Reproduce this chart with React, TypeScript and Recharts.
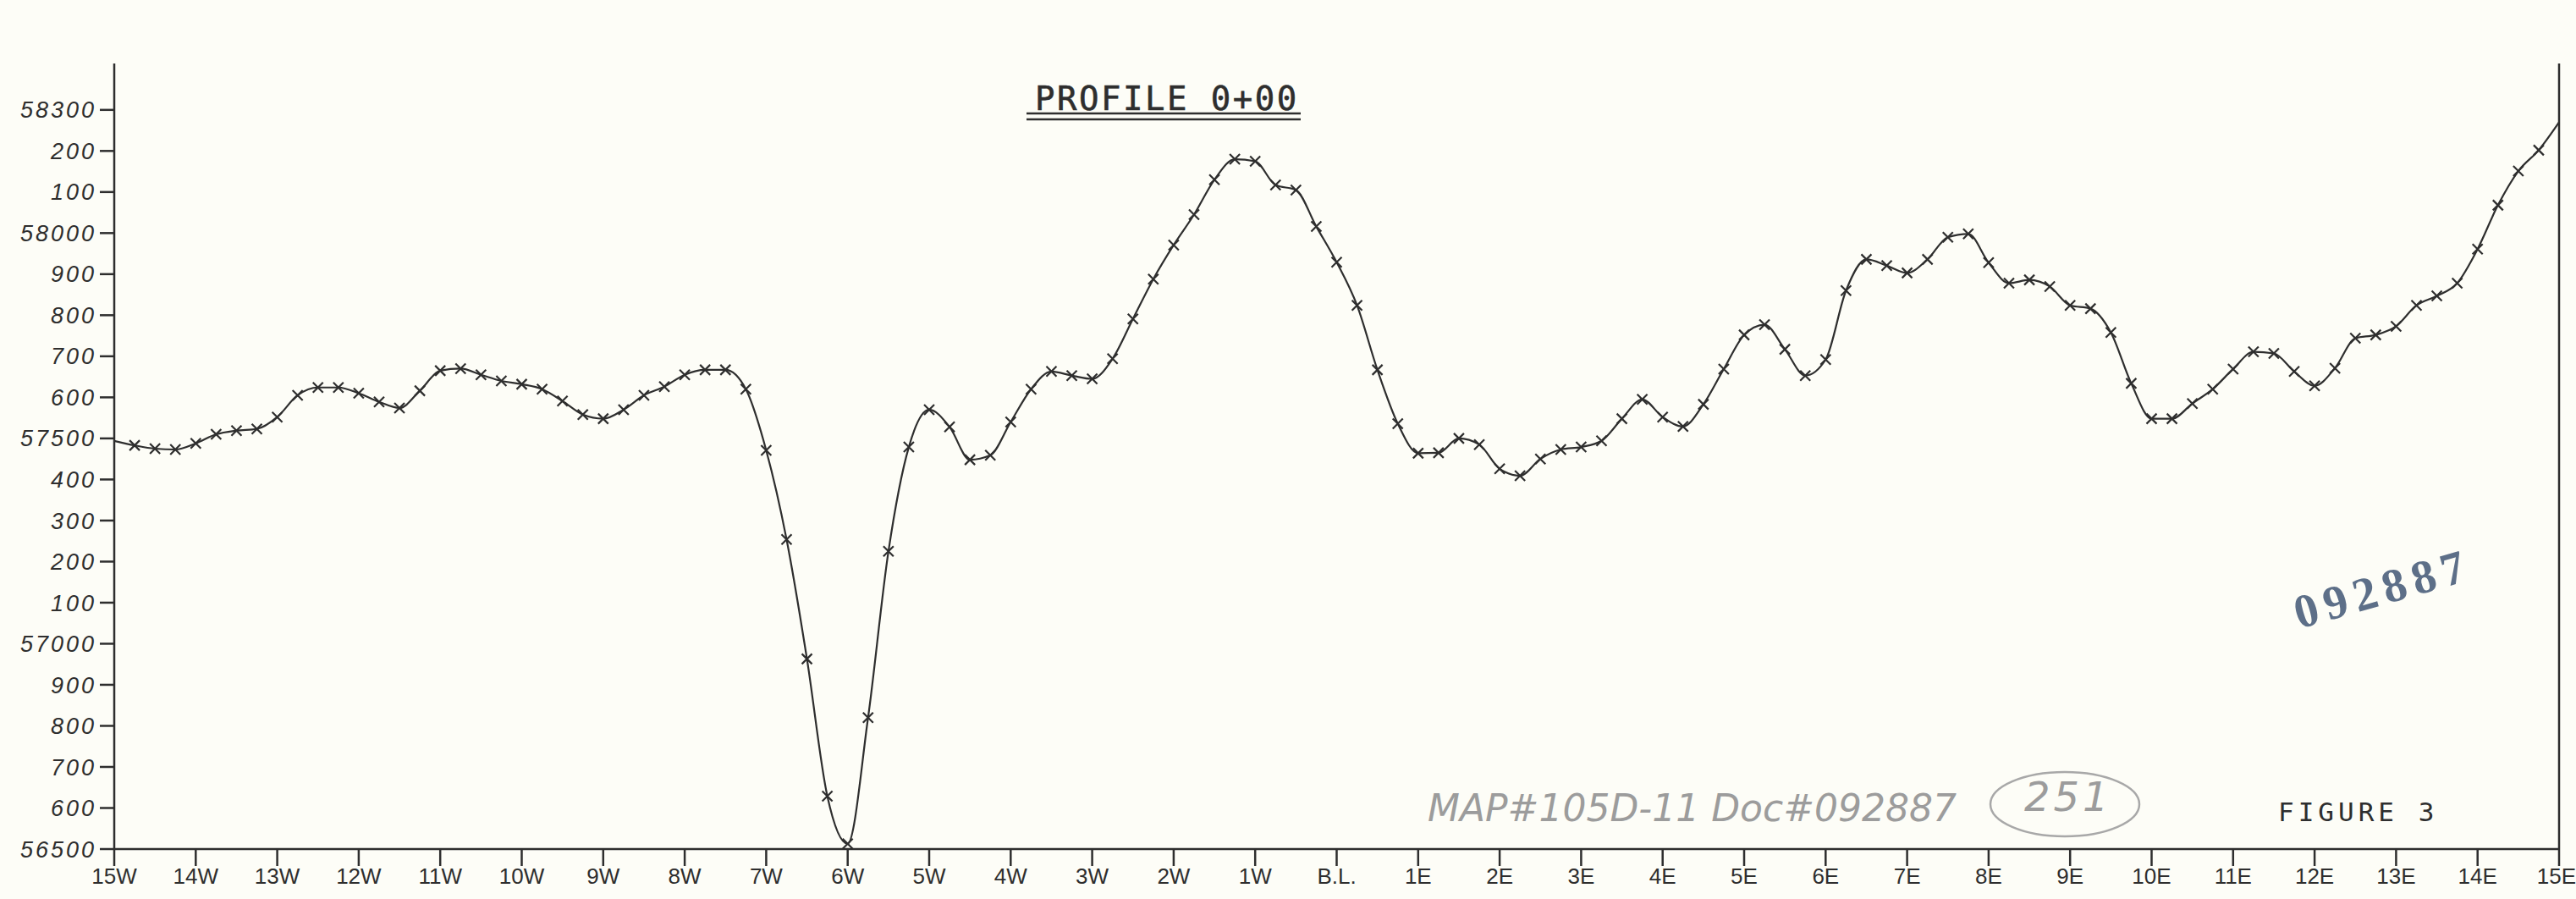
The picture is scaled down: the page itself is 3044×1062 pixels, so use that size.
import React from 'react'
import { LineChart, Line, XAxis, YAxis, ReferenceLine } from 'recharts'

// stations along the line, one every 100 ft, readings every 25 ft
const stations = ['15W', '14W', '13W', '12W', '11W', '10W', '9W', '8W', '7W', '6W', '5W', '4W', '3W', '2W', '1W',
  'B.L.', '1E', '2E', '3E', '4E', '5E', '6E', '7E', '8E', '9E', '10E', '11E', '12E', '13E', '14E', '15E']

const westReadings = [
  57494, 57483, 57475, 57473, // 15W
  57488, 57510, 57519, 57523, // 14W
  57552, 57605, 57624, 57624, // 13W
  57610, 57589, 57574, 57616, // 12W
  57665, 57670, 57655, 57640, // 11W
  57632, 57620, 57591, 57558, // 10W
  57548, 57570, 57605, 57626, // 9W
  57655, 57667, 57667, 57620, // 8W
  57471, 57254, 56963, 56629, // 7W
  56513, 56820, 57225, 57479, // 6W
  57570, 57528, 57448, 57459, // 5W
  57540, 57620, 57663, 57653, // 4W
  57645, 57694, 57791, 57888, // 3W
  57971, 58045, 58130, 58180, // 2W
  58175, 58117, 58105, 58016, // 1W
]

const eastReadings = [
  57929, 57824, 57667, 57536, // B.L.
  57464, 57465, 57500, 57485, // 1E
  57426, 57409, 57450, 57473, // 2E
  57479, 57494, 57548, 57595, // 3E
  57552, 57529, 57583, 57669, // 4E
  57752, 57777, 57717, 57653, // 5E
  57692, 57860, 57936, 57921, // 6E
  57903, 57936, 57990, 57998, // 7E
  57928, 57878, 57886, 57870, // 8E
  57824, 57816, 57758, 57634, // 9E
  57548, 57548, 57585, 57620, // 10E
  57669, 57711, 57707, 57663, // 11E
  57628, 57671, 57744, 57752, // 12E
  57773, 57824, 57847, 57878, // 13E
  57961, 58068, 58151, 58202, // 14E
  58270, // 15E
]

const yTicks = [56500, 56600, 56700, 56800, 56900, 57000, 57100, 57200, 57300, 57400,
  57500, 57600, 57700, 57800, 57900, 58000, 58100, 58200, 58300]
const yTickLabels = ['56500', '600', '700', '800', '900', '57000', '100', '200', '300', '400',
  '57500', '600', '700', '800', '900', '58000', '100', '200', '58300']

const data = [...westReadings, ...eastReadings].map((v, i) => ({ pos: i, elev: v }))
const lastPos = data.length - 1

const ink = '#2e2e2e'
const paper = '#fdfdf7'

function Cross(props: any) {
  const { cx, cy, index } = props
  if (index === 0 || index === lastPos) return <g key={'d' + index} />
  const d = `M${cx - 6},${cy - 6}L${cx + 6},${cy + 6}M${cx - 6},${cy + 6}L${cx + 6},${cy - 6}`
  return <path key={'d' + index} d={d} stroke={ink} strokeWidth={2.2} fill="none" />
}

// keep the last station label inside the page
function StationTick(props: any) {
  const { x, y, payload } = props
  const label = stations[payload.value / 4]
  const last = payload.value === lastPos
  return (
    <text x={last ? 3044 : x} y={y} dy="0.71em" textAnchor={last ? 'end' : 'middle'} fill={ink}
      fontSize={26} fontFamily="Liberation Sans Narrow, Liberation Sans, sans-serif">{label}</text>
  )
}

export default function App() {
  return (
    <div style={{ position: 'absolute', left: 0, top: 0, width: 3044, height: 1062, background: paper }}>
      <LineChart width={3044} height={1062} data={data}
        margin={{ top: 75, right: 20, left: 0, bottom: 0 }}>
        <XAxis dataKey="pos" type="number" domain={[0, lastPos]} height={59}
          ticks={stations.map((_, i) => i * 4)} interval={0}
          stroke={ink} strokeWidth={2.5} tickSize={20} tickMargin={3}
          tick={StationTick} />
        <YAxis type="number" domain={[56500, 58413]} ticks={yTicks} width={135}
          tickFormatter={(v: number) => yTickLabels[yTicks.indexOf(v)]}
          stroke={ink} strokeWidth={2.5} tickSize={17} tickMargin={4} interval={0}
          tick={{ fill: ink, fontSize: 27, fontStyle: 'italic', letterSpacing: 3, fontFamily: 'Liberation Sans, sans-serif' }} />
        <ReferenceLine x={lastPos} stroke={ink} strokeWidth={2.5} />
        <Line type="monotone" dataKey="elev" stroke={ink} strokeWidth={2.2}
          dot={Cross} activeDot={false} isAnimationActive={false} />
      </LineChart>
      <svg width={3044} height={1062} style={{ position: 'absolute', left: 0, top: 0, pointerEvents: 'none' }}>
        <text x={1223} y={130} fontFamily="DejaVu Sans Mono, monospace" fontSize={39} letterSpacing={2.5} fill={ink}
          stroke={ink} strokeWidth={0.6}>PROFILE 0+00</text>
        <line x1={1213} y1={134} x2={1537} y2={134} stroke={ink} strokeWidth={2.5} />
        <line x1={1213} y1={141} x2={1537} y2={141} stroke={ink} strokeWidth={2.5} />
        <text x={2692} y={970} fontFamily="DejaVu Sans Mono, monospace" fontSize={31} letterSpacing={5} fill={ink}>FIGURE 3</text>
        <text x={1687} y={970} fontFamily="DejaVu Sans, sans-serif" fontWeight={200} fontStyle="italic"
          fontSize={45} textLength={625} lengthAdjust="spacingAndGlyphs" fill="#9c9c9c">MAP#105D-11 Doc#092887</text>
        <text x={2392} y={958} fontFamily="DejaVu Sans, sans-serif" fontWeight={200} fontStyle="italic"
          fontSize={48} letterSpacing={4} fill="#9c9c9c">251</text>
        <ellipse cx={2440} cy={950} rx={88} ry={38} fill="none" stroke="#a8a8a8" strokeWidth={2.5} />
        <text x={2717} y={743} transform="rotate(-16 2717 743)" fontFamily="Liberation Serif, serif" fontWeight="bold"
          fontSize={56} letterSpacing={8} fill="#5d6f88">092887</text>
      </svg>
    </div>
  )
}
